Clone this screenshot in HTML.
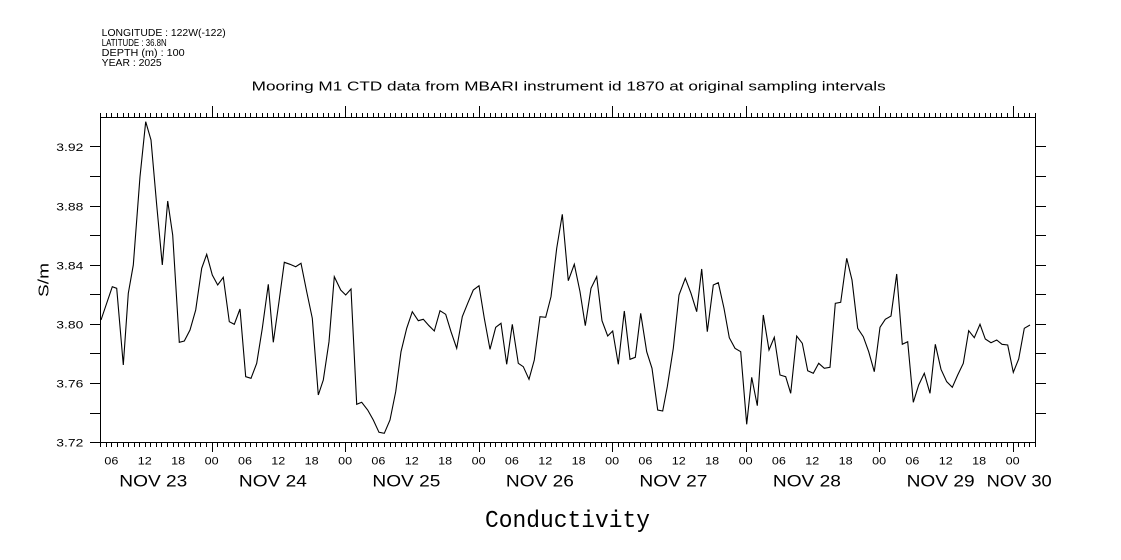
<!DOCTYPE html>
<html><head><meta charset="utf-8"><style>
html,body{margin:0;padding:0;background:#fff;}
svg{display:block;}
text{font-family:"Liberation Sans",sans-serif;fill:#000;}
</style></head><body>
<svg width="1121" height="560" viewBox="0 0 1121 560" xmlns="http://www.w3.org/2000/svg">
<rect width="1121" height="560" fill="#fff"/>
<!-- header -->
<g font-size="9.8">
<text x="101.7" y="36" textLength="124" lengthAdjust="spacingAndGlyphs">LONGITUDE : 122W(-122)</text>
<text x="101.7" y="46" textLength="65" lengthAdjust="spacingAndGlyphs">LATITUDE : 36.8N</text>
<text x="101.7" y="56" textLength="83" lengthAdjust="spacingAndGlyphs">DEPTH (m) : 100</text>
<text x="101.7" y="66" textLength="60" lengthAdjust="spacingAndGlyphs">YEAR : 2025</text>
</g>
<text x="251.7" y="90.7" font-size="12.5" textLength="634" lengthAdjust="spacingAndGlyphs">Mooring M1 CTD data from MBARI instrument id 1870 at original sampling intervals</text>
<!-- frame -->
<g stroke="#000" stroke-width="1" fill="none" shape-rendering="crispEdges">
<rect x="100.5" y="117.5" width="935" height="325"/>
<defs><path id="tk" d="M100.5 0v4M106.5 0v4M111.5 0v4M117.5 0v4M123.5 0v4M128.5 0v4M134.5 0v4M139.5 0v4M145.5 0v4M150.5 0v4M156.5 0v4M161.5 0v4M167.5 0v4M173.5 0v4M178.5 0v4M184.5 0v4M189.5 0v4M195.5 0v4M200.5 0v4M206.5 0v4M212.5 0v4M217.5 0v4M223.5 0v4M228.5 0v4M234.5 0v4M239.5 0v4M245.5 0v4M250.5 0v4M256.5 0v4M262.5 0v4M267.5 0v4M273.5 0v4M278.5 0v4M284.5 0v4M289.5 0v4M295.5 0v4M301.5 0v4M306.5 0v4M312.5 0v4M317.5 0v4M323.5 0v4M328.5 0v4M334.5 0v4M339.5 0v4M345.5 0v4M351.5 0v4M356.5 0v4M362.5 0v4M367.5 0v4M373.5 0v4M378.5 0v4M384.5 0v4M390.5 0v4M395.5 0v4M401.5 0v4M406.5 0v4M412.5 0v4M417.5 0v4M423.5 0v4M428.5 0v4M434.5 0v4M440.5 0v4M445.5 0v4M451.5 0v4M456.5 0v4M462.5 0v4M467.5 0v4M473.5 0v4M479.5 0v4M484.5 0v4M490.5 0v4M495.5 0v4M501.5 0v4M506.5 0v4M512.5 0v4M517.5 0v4M523.5 0v4M529.5 0v4M534.5 0v4M540.5 0v4M545.5 0v4M551.5 0v4M556.5 0v4M562.5 0v4M568.5 0v4M573.5 0v4M579.5 0v4M584.5 0v4M590.5 0v4M595.5 0v4M601.5 0v4M606.5 0v4M612.5 0v4M618.5 0v4M623.5 0v4M629.5 0v4M634.5 0v4M640.5 0v4M645.5 0v4M651.5 0v4M657.5 0v4M662.5 0v4M668.5 0v4M673.5 0v4M679.5 0v4M684.5 0v4M690.5 0v4M695.5 0v4M701.5 0v4M707.5 0v4M712.5 0v4M718.5 0v4M723.5 0v4M729.5 0v4M734.5 0v4M740.5 0v4M746.5 0v4M751.5 0v4M757.5 0v4M762.5 0v4M768.5 0v4M773.5 0v4M779.5 0v4M784.5 0v4M790.5 0v4M796.5 0v4M801.5 0v4M807.5 0v4M812.5 0v4M818.5 0v4M823.5 0v4M829.5 0v4M835.5 0v4M840.5 0v4M846.5 0v4M851.5 0v4M857.5 0v4M862.5 0v4M868.5 0v4M873.5 0v4M879.5 0v4M885.5 0v4M890.5 0v4M896.5 0v4M901.5 0v4M907.5 0v4M912.5 0v4M918.5 0v4M924.5 0v4M929.5 0v4M935.5 0v4M940.5 0v4M946.5 0v4M951.5 0v4M957.5 0v4M962.5 0v4M968.5 0v4M974.5 0v4M979.5 0v4M985.5 0v4M990.5 0v4M996.5 0v4M1001.5 0v4M1007.5 0v4M1013.5 0v4M1018.5 0v4M1024.5 0v4M1029.5 0v4M1035.5 0v4"/></defs>
<use href="#tk" transform="translate(0,443)"/>
<use href="#tk" transform="translate(0,113)"/>
<path d="M212.5 443v9M345.5 443v9M479.5 443v9M612.5 443v9M746.5 443v9M879.5 443v9M1013.5 443v9"/>
<path d="M212.5 106v7M345.5 106v7M479.5 106v7M612.5 106v7M746.5 106v7M879.5 106v7M1013.5 106v7"/>
<path d="M90 146.5h10M90 176.5h10M90 206.5h10M90 235.5h10M90 265.5h10M90 294.5h10M90 324.5h10M90 353.5h10M90 383.5h10M90 413.5h10M90 442.5h10"/>
<path d="M1036 146.5h10M1036 176.5h10M1036 206.5h10M1036 235.5h10M1036 265.5h10M1036 294.5h10M1036 324.5h10M1036 353.5h10M1036 383.5h10M1036 413.5h10"/>
</g>
<!-- y labels -->
<g font-size="11">
<text x="56.3" y="151" textLength="27" lengthAdjust="spacingAndGlyphs">3.92</text>
<text x="56.3" y="210.3" textLength="27" lengthAdjust="spacingAndGlyphs">3.88</text>
<text x="56.3" y="269.4" textLength="27" lengthAdjust="spacingAndGlyphs">3.84</text>
<text x="56.3" y="328.5" textLength="27" lengthAdjust="spacingAndGlyphs">3.80</text>
<text x="56.3" y="387.6" textLength="27" lengthAdjust="spacingAndGlyphs">3.76</text>
<text x="56.3" y="446.7" textLength="27" lengthAdjust="spacingAndGlyphs">3.72</text>
</g>
<text transform="translate(48.5,297) rotate(-90)" font-size="15" textLength="34" lengthAdjust="spacingAndGlyphs">S/m</text>
<!-- hour labels -->
<g font-size="11">
<text x="104.4" y="464.3" textLength="14" lengthAdjust="spacingAndGlyphs">06</text>
<text x="137.8" y="464.3" textLength="14" lengthAdjust="spacingAndGlyphs">12</text>
<text x="171.2" y="464.3" textLength="14" lengthAdjust="spacingAndGlyphs">18</text>
<text x="204.6" y="464.3" textLength="14" lengthAdjust="spacingAndGlyphs">00</text>
<text x="238.0" y="464.3" textLength="14" lengthAdjust="spacingAndGlyphs">06</text>
<text x="271.3" y="464.3" textLength="14" lengthAdjust="spacingAndGlyphs">12</text>
<text x="304.7" y="464.3" textLength="14" lengthAdjust="spacingAndGlyphs">18</text>
<text x="338.1" y="464.3" textLength="14" lengthAdjust="spacingAndGlyphs">00</text>
<text x="371.4" y="464.3" textLength="14" lengthAdjust="spacingAndGlyphs">06</text>
<text x="404.8" y="464.3" textLength="14" lengthAdjust="spacingAndGlyphs">12</text>
<text x="438.2" y="464.3" textLength="14" lengthAdjust="spacingAndGlyphs">18</text>
<text x="471.6" y="464.3" textLength="14" lengthAdjust="spacingAndGlyphs">00</text>
<text x="504.9" y="464.3" textLength="14" lengthAdjust="spacingAndGlyphs">06</text>
<text x="538.3" y="464.3" textLength="14" lengthAdjust="spacingAndGlyphs">12</text>
<text x="571.7" y="464.3" textLength="14" lengthAdjust="spacingAndGlyphs">18</text>
<text x="605.1" y="464.3" textLength="14" lengthAdjust="spacingAndGlyphs">00</text>
<text x="638.4" y="464.3" textLength="14" lengthAdjust="spacingAndGlyphs">06</text>
<text x="671.8" y="464.3" textLength="14" lengthAdjust="spacingAndGlyphs">12</text>
<text x="705.2" y="464.3" textLength="14" lengthAdjust="spacingAndGlyphs">18</text>
<text x="738.6" y="464.3" textLength="14" lengthAdjust="spacingAndGlyphs">00</text>
<text x="771.9" y="464.3" textLength="14" lengthAdjust="spacingAndGlyphs">06</text>
<text x="805.3" y="464.3" textLength="14" lengthAdjust="spacingAndGlyphs">12</text>
<text x="838.7" y="464.3" textLength="14" lengthAdjust="spacingAndGlyphs">18</text>
<text x="872.1" y="464.3" textLength="14" lengthAdjust="spacingAndGlyphs">00</text>
<text x="905.4" y="464.3" textLength="14" lengthAdjust="spacingAndGlyphs">06</text>
<text x="938.8" y="464.3" textLength="14" lengthAdjust="spacingAndGlyphs">12</text>
<text x="972.2" y="464.3" textLength="14" lengthAdjust="spacingAndGlyphs">18</text>
<text x="1005.6" y="464.3" textLength="14" lengthAdjust="spacingAndGlyphs">00</text>
</g>
<!-- day labels -->
<g font-size="17">
<text x="119.3" y="486.7" textLength="68" lengthAdjust="spacingAndGlyphs">NOV 23</text>
<text x="238.9" y="486.7" textLength="68" lengthAdjust="spacingAndGlyphs">NOV 24</text>
<text x="372.4" y="486.7" textLength="68" lengthAdjust="spacingAndGlyphs">NOV 25</text>
<text x="505.9" y="486.7" textLength="68" lengthAdjust="spacingAndGlyphs">NOV 26</text>
<text x="639.4" y="486.7" textLength="68" lengthAdjust="spacingAndGlyphs">NOV 27</text>
<text x="772.9" y="486.7" textLength="68" lengthAdjust="spacingAndGlyphs">NOV 28</text>
<text x="906.6" y="486.7" textLength="68" lengthAdjust="spacingAndGlyphs">NOV 29</text>
<text x="986.7" y="486.7" textLength="65" lengthAdjust="spacingAndGlyphs">NOV 30</text>
</g>
<text x="485" y="527" font-family="Liberation Mono, monospace" font-size="24" textLength="165" lengthAdjust="spacingAndGlyphs" style="font-family:'Liberation Mono',monospace">Conductivity</text>
<!-- data -->
<polyline fill="none" stroke="#000" stroke-width="1.1" stroke-linejoin="miter" points="101,320 112.3,286.7 116.7,288.3 123.3,365 128.3,293.3 133.3,265 140,176.7 145.7,121.7 151,140 156.7,205 162.3,265 167.7,201 172.7,235 179.3,342.3 184.3,341 190,330 195.7,310 201.7,268.3 206.7,254.3 212.3,275 217.7,285 223.3,277.3 229.3,321.7 234.3,324.3 240,309 245.7,376.7 251,378.3 256.7,363.3 262.3,328.3 268.3,284.3 273.3,342.3 279,301.7 284.3,262.3 290,264.3 295.7,266.7 301,263.3 306.7,291.7 312.3,318.3 318.3,395 323.3,380 329,341.7 334.3,276.7 340.7,290 345.7,295 351,289 356.7,404.3 361.7,402.3 367.7,410 373.3,420 379,432.3 384.3,433.3 390,420 395.7,391.7 401,351.7 406.7,328.3 412.3,311.7 418.3,320.7 423.3,319.3 429,325.7 434.3,331 440,310.7 445.7,314.3 451,331.7 456.7,348.3 462.3,316.7 467.7,303.3 473.3,290 479,285.7 484.3,318.3 490,349.3 495.7,327.3 501,323.3 506.7,364.3 512.3,324.3 518.3,363.3 523.3,366.7 529,379.3 534.3,360 540,316.7 545.7,317.3 551,296.7 556.7,248.3 562.3,214.3 568.3,280.7 574.3,264.3 580,291.7 585.3,325.7 591,288.3 596.7,276.7 602,320.7 607.7,336 612.7,331 618.3,364.3 624.3,311 630,359.3 635.3,357.3 640.7,313.3 646.7,351.7 652,368.3 657.7,410 662.7,411 667.3,386.7 673.3,348.3 679,295 685.3,278.3 691,293.3 696.7,311.7 701.7,269 707.3,331.7 713.3,285 718.3,282.7 724,308.3 729.3,337.7 735,348.3 740.7,351.7 746.7,424.3 751.7,377.3 757.3,405.7 763.3,315 769,350 774.3,337.3 780,375 785.7,376.7 790.7,393.3 796.7,336 802.3,343.3 807.7,370.7 813.3,373.3 818.7,363.3 824.3,368.3 830,367.3 835.3,303.3 840.7,302.3 846.7,258.3 852,280 857.7,328.3 863.3,336.7 868.7,351.7 874.3,371.7 880,327.3 885.3,319.3 891,316 896.7,274 902.3,344.3 907.7,341.7 913.3,402.3 918.7,385 924.3,373.3 930,393.3 935.3,344.3 941,369.3 946.7,381.7 952.3,387.3 957.7,375 963.3,363.3 968.7,330.7 974.3,337.7 980,324.3 985.3,339 991,342.7 996.7,340 1002,344.3 1007.7,345 1013.3,372.3 1018.7,359 1024.3,328.3 1030,325"/>
</svg>
</body></html>
